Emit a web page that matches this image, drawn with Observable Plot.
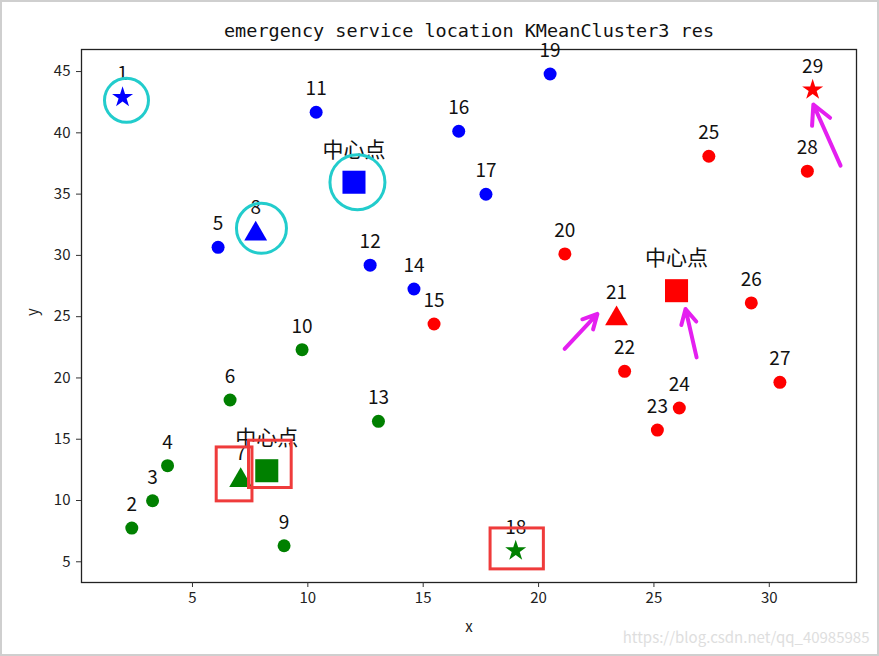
<!DOCTYPE html>
<html>
<head>
<meta charset="utf-8">
<script src="https://cdn.jsdelivr.net/npm/d3@7"></script>
<script src="https://cdn.jsdelivr.net/npm/@observablehq/plot@0.6"></script>
<style>
  html, body { margin: 0; padding: 0; background: #fff; }
  #chart svg { display: block; outline: 2px solid #cfcfcf; outline-offset: -2px; }
</style>
</head>
<body>
<div id="chart"></div>
<script>
// ---- data ----
const title = "emergency service location KMeanCluster3 res";
const xTicks = [5, 10, 15, 20, 25, 30];
const yTicks = [5, 10, 15, 20, 25, 30, 35, 40, 45];
const clusterColors = ["#0000ff", "#ff0000", "#008000"];

const pointIds = ["1","2","3","4","5","6","7","8","9","10","11","12","13","14","15",
                  "16","17","18","19","20","21","22","23","24","25","26","27","28","29"];
const pointX = [1.97, 2.37, 3.27, 3.92, 6.11, 6.63, 7.09, 7.74, 8.97, 9.75, 10.36, 12.7, 13.06, 14.6, 15.47,
                16.54, 17.72, 19.01, 20.5, 21.14, 23.38, 23.73, 25.15, 26.1, 27.38, 29.22, 30.46, 31.65, 31.88];
const pointY = [42.9, 7.75, 9.98, 12.84, 30.66, 18.2, 11.89, 32.0, 6.31, 22.31, 41.68, 29.2, 16.46, 27.26, 24.4,
                40.13, 34.99, 5.9, 44.8, 30.12, 25.08, 20.54, 15.75, 17.55, 38.09, 26.12, 19.64, 36.87, 43.51];
const pointCluster = [0, 2, 2, 2, 0, 2, 2, 0, 2, 2, 0, 0, 2, 0, 1,
                      0, 0, 2, 0, 1, 1, 1, 1, 1, 1, 1, 1, 1, 1];
const starIds = ["1", "18", "29"];
const triangleIds = ["7", "8", "21"];

const centerX = [12.0, 25.98, 8.22];
const centerY = [35.97, 27.12, 12.43];
const centerCluster = [0, 1, 2];
const centerLabel = "中心点";

// hand-drawn highlights on the reference
const ringX = [2.14, 7.99, 12.15];
const ringY = [42.65, 32.21, 35.97];
const ringR = [22, 25, 27.5];
const boxX1 = [6.05, 7.45, 17.92];
const boxX2 = [7.60, 9.30, 20.23];
const boxY1 = [9.93, 11.02, 4.38];
const boxY2 = [14.33, 14.88, 7.72];
const arrowX1 = [21.13, 26.85, 33.09];
const arrowY1 = [22.37, 21.68, 37.33];
const arrowX2 = [22.55, 26.37, 31.91];
const arrowY2 = [25.22, 25.63, 42.31];
const watermark = "https://blog.csdn.net/qq_40985985";

// ---- tables ----
const points = pointIds.map((id, i) => ({
  id, x: pointX[i], y: pointY[i], color: clusterColors[pointCluster[i]],
  shape: starIds.includes(id) ? "star" : triangleIds.includes(id) ? "triangle" : "circle"
}));
const centers = centerX.map((x, i) => ({x, y: centerY[i], color: clusterColors[centerCluster[i]]}));
const rings = ringX.map((x, i) => ({x, y: ringY[i], r: ringR[i]}));
const boxes = boxX1.map((x1, i) => ({x1, x2: boxX2[i], y1: boxY1[i], y2: boxY2[i]}));
const arrows = arrowX1.map((x1, i) => ({x1, y1: arrowY1[i], x2: arrowX2[i], y2: arrowY2[i]}));

const cjk = "'Noto Sans CJK SC', 'Noto Sans', sans-serif";

const chart = Plot.plot({
  width: 879,
  height: 656,
  marginLeft: 81,
  marginRight: 23,
  marginTop: 49,
  marginBottom: 74,
  style: {fontFamily: cjk, background: "#fff", color: "#222"},
  x: {domain: [0.19, 33.78], label: null},
  y: {domain: [3.31, 46.8], label: null},
  color: {type: "identity"},
  r: {type: "identity"},
  marks: [
    Plot.frame({stroke: "#222", strokeWidth: 1.3}),
    Plot.axisX({ticks: xTicks, tickSize: 5, tickPadding: 5, fontSize: 15, label: null, stroke: "#333"}),
    Plot.axisY({ticks: yTicks, tickSize: 5, tickPadding: 6, fontSize: 15, label: null, stroke: "#333"}),
    Plot.dot(points.filter(d => d.shape === "circle"), {x: "x", y: "y", fill: "color", r: 6.5, symbol: "circle"}),
    Plot.dot(points.filter(d => d.shape === "triangle"), {x: "x", y: "y", fill: "color", r: 8.5, symbol: "triangle", dy: 3}),
    Plot.dot(points.filter(d => d.shape === "star"), {x: "x", y: "y", fill: "color", r: 6.6, symbol: "star"}),
    Plot.dot(centers, {x: "x", y: "y", fill: "color", r: 13, symbol: "square"}),
    Plot.text(points, {x: "x", y: "y", text: "id", dy: -23, fontSize: 19, fill: "#111"}),
    Plot.text(centers, {x: "x", y: "y", text: () => centerLabel, dy: -32, fontSize: 21, fill: "#111"}),
    Plot.dot(rings, {x: "x", y: "y", r: "r", stroke: "#22cccc", strokeWidth: 3, fill: "none"}),
    Plot.rect(boxes, {x1: "x1", x2: "x2", y1: "y1", y2: "y2", stroke: "#ef3b3b", strokeWidth: 3, fill: "none"}),
    Plot.arrow(arrows, {x1: "x1", y1: "y1", x2: "x2", y2: "y2", stroke: "#e41ff0", strokeWidth: 4, headLength: 8, headAngle: 55}),
    Plot.text([title], {frameAnchor: "top", lineAnchor: "middle", dy: -18, fontSize: 18.5, fontFamily: "'DejaVu Sans Mono', monospace", fill: "#111"}),
    Plot.text(["x"], {frameAnchor: "bottom", lineAnchor: "middle", dy: 45, fontSize: 15, fill: "#222"}),
    Plot.text(["y"], {frameAnchor: "left", lineAnchor: "middle", dx: -48, rotate: -90, fontSize: 15, fill: "#222"}),
    Plot.text([watermark], {frameAnchor: "bottom-right", lineAnchor: "middle", dx: 13, dy: 56, textAnchor: "end", fontSize: 15, fill: "#dedede"})
  ]
});
document.getElementById("chart").append(chart);
</script>
</body>
</html>
